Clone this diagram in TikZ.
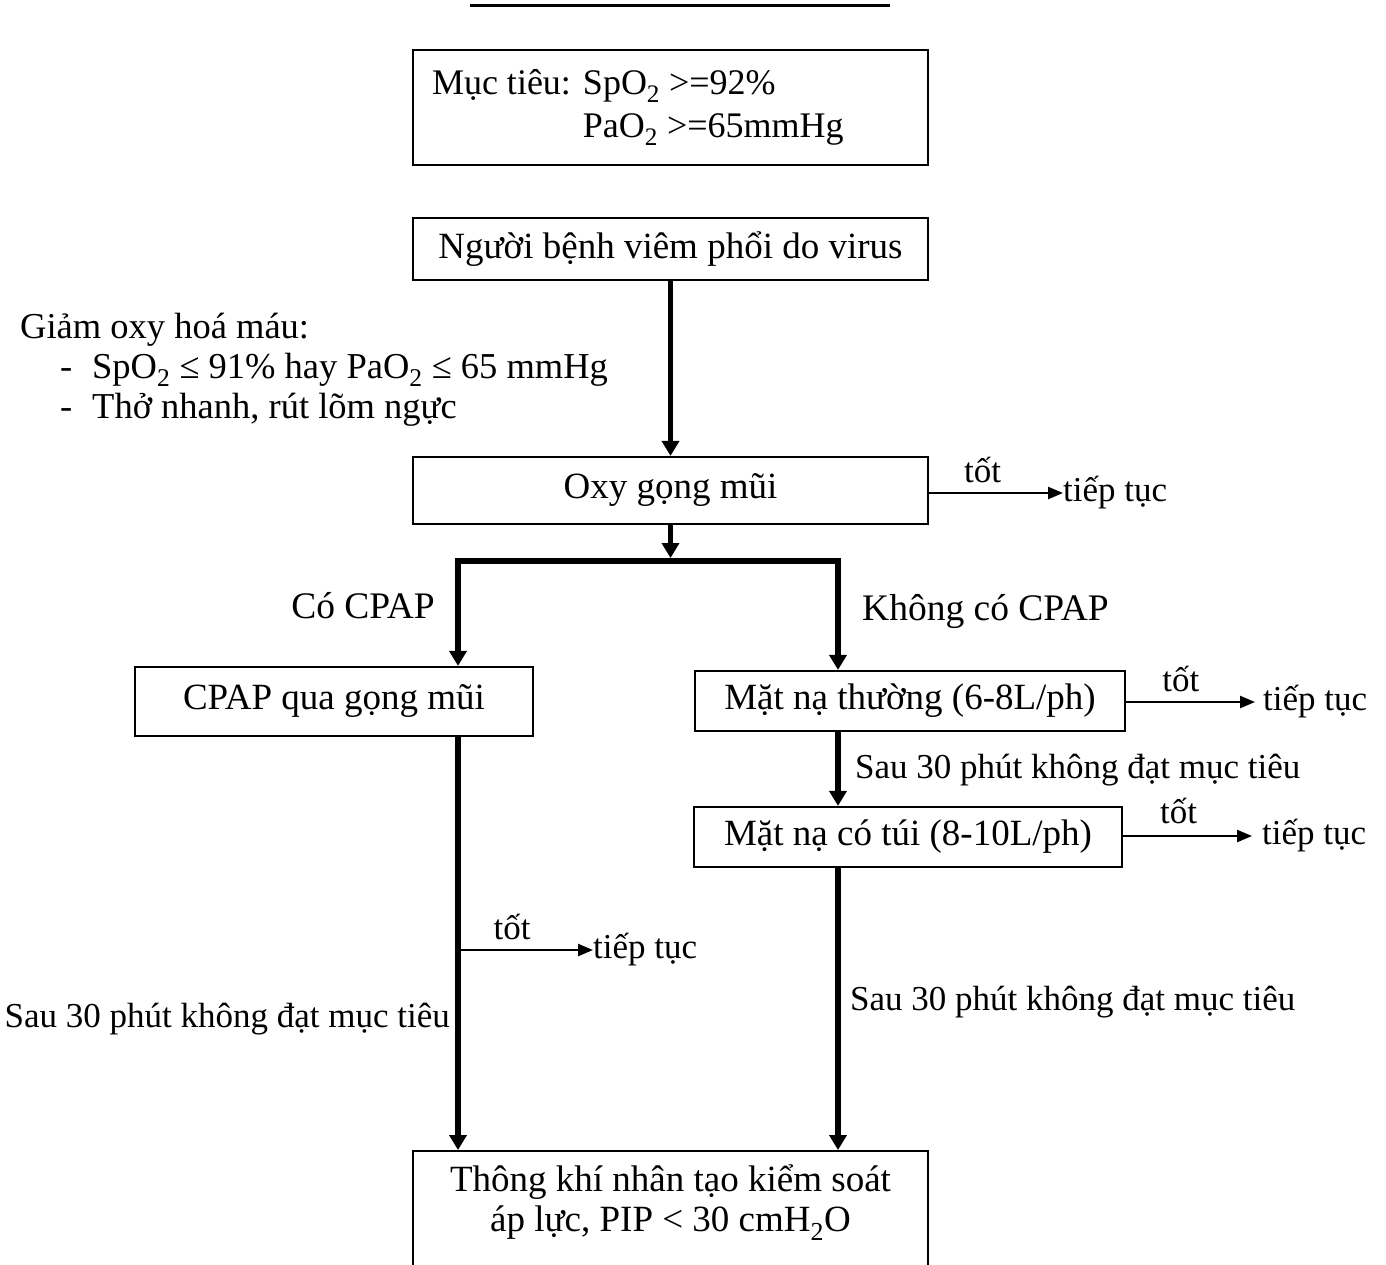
\documentclass[tikz,border=0pt]{standalone}
\usepackage{fontspec}
\setmainfont{Liberation Serif}
\usetikzlibrary{arrows.meta,positioning}

\begin{document}
\begin{tikzpicture}[
   x=1pt, y=-1pt,
   box/.style={draw, line width=2.2pt, inner sep=0pt, font=\fontsize{37}{43}\selectfont},
   lbl/.style={inner sep=0pt, font=\fontsize{35}{40}\selectfont},
   crit/.style={inner sep=0pt, anchor=base west, font=\fontsize{36.5}{40}\selectfont},
   branch/.style={inner sep=0pt, font=\fontsize{37.5}{43}\selectfont},
   bigarrow/.style={line width=5.5pt, -{Triangle[length=15pt,width=17pt]}},
   bigline/.style={line width=5.5pt, line cap=rect},
   okarrow/.style={line width=2.4pt, -{Triangle[length=15pt,width=12pt]}}]

\useasboundingbox (0,0) rectangle (1386,1264);
\draw[line width=3pt] (470,5) -- (890,5);

% boxes
\node[box, text width=477pt, inner xsep=19pt, minimum height=115pt, align=flush left,
      font=\fontsize{36}{43}\selectfont] (goal) at (670.5,107.5)
   {\begin{tabular}{@{}l@{ }l@{}}
    Mục tiêu: & SpO\textsubscript{2} >=92\% \\
              & PaO\textsubscript{2} >=65mmHg
    \end{tabular}};
\node[box, minimum width=515pt, minimum height=62pt] (patient) at (670.5,249) {Người bệnh viêm phổi do virus};
\node[box, minimum width=515pt, minimum height=67pt] (oxy) at (670.5,490.5) {Oxy gọng mũi};
\node[box, minimum width=398pt, minimum height=69pt] (cpap) at (334,701.5) {CPAP qua gọng mũi};
\node[box, minimum width=430pt, minimum height=60pt] (mask1) at (910,701) {Mặt nạ thường (6-8L/ph)};
\node[box, minimum width=428pt, minimum height=60pt] (mask2) at (908,837) {Mặt nạ có túi (8-10L/ph)};
\node[box, anchor=north, text width=477pt, inner xsep=19pt, inner ysep=14pt, text depth=100pt, align=flush center,
      font=\fontsize{37}{40}\selectfont] (vent) at (670.5,1150)
   {Thông khí nhân tạo kiểm soát\\ áp lực, PIP < 30 cmH\textsubscript{2}O};

% hypoxaemia criteria
\node[crit] (hypox) at (20,338) {Giảm oxy hoá máu:};
\node[crit] (dash1) at (60,378) {-};
\node[crit] (crit1) at (92,378) {SpO\textsubscript{2} ≤ 91\% hay PaO\textsubscript{2} ≤ 65 mmHg};
\node[crit] (dash2) at (60,418) {-};
\node[crit] (crit2) at (92,418) {Thở nhanh, rút lõm ngực};

% "tiep tuc" ends
\node[lbl, anchor=west] (go1) at (1063,493) {tiếp tục};
\node[lbl, anchor=west] (go2) at (1263,702) {tiếp tục};
\node[lbl, anchor=west] (go3) at (1262,836) {tiếp tục};
\node[lbl, anchor=west] (go4) at (593,950) {tiếp tục};

\coordinate (barL) at (458,561);
\coordinate (barR) at (838,561);
\coordinate (split) at (458,950);

% main flow
\draw[bigarrow] (patient) -- (oxy);
\draw[bigarrow, shorten >=3pt] (oxy) -- (oxy.south |- barL);
\draw[bigline] (barL) -- (barR);
\draw[bigarrow] (barL) -- (barL |- cpap.north);
\draw[bigarrow] (barR) -- (barR |- mask1.north);
\draw[bigarrow] (mask1.south -| barR) -- (mask2.north -| barR);
\draw[bigarrow] (mask2.south -| barR) -- (vent.north -| barR);
\draw[bigarrow] (cpap.south -| barL) -- (vent.north -| barL);

\node[branch, anchor=base east] (withcpap) at (435,618) {Có CPAP};
\node[branch, anchor=base west] (nocpap) at (862,620) {Không có CPAP};
\node[lbl, anchor=base west] (fail1) at (855,778) {Sau 30 phút không đạt mục tiêu};
\node[lbl, anchor=base west] (fail2) at (850,1010) {Sau 30 phút không đạt mục tiêu};
\node[lbl, anchor=base east] (fail3) at (450,1027) {Sau 30 phút không đạt mục tiêu};

% good response
\draw[okarrow] (oxy.east |- go1.west) -- (go1.west) node[lbl, pos=.4, above=9pt] {tốt};
\draw[okarrow, shorten >=8pt] (mask1.east |- go2.west) -- (go2.west) node[lbl, pos=.4, above=9pt] {tốt};
\draw[okarrow, shorten >=10pt] (mask2.east |- go3.west) -- (go3.west) node[lbl, pos=.4, above=11pt] {tốt};
\draw[okarrow] (split |- go4.west) -- (go4.west) node[lbl, pos=.4, above=9pt] {tốt};

\end{tikzpicture}
\end{document}
